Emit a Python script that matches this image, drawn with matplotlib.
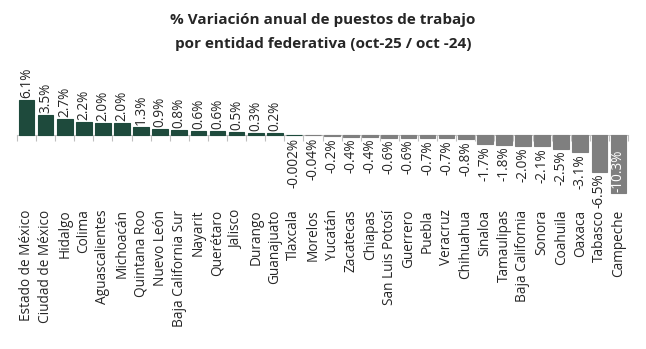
import numpy as np
import matplotlib.pyplot as plt

plt.rcParams['font.family'] = ['Open Sans', 'DejaVu Sans']

# datos
estados = ['Estado de México', 'Ciudad de México', 'Hidalgo', 'Colima', 'Aguascalientes',
           'Michoacán', 'Quintana Roo', 'Nuevo León', 'Baja California Sur', 'Nayarit',
           'Querétaro', 'Jalisco', 'Durango', 'Guanajuato', 'Tlaxcala', 'Morelos',
           'Yucatán', 'Zacatecas', 'Chiapas', 'San Luis Potosí', 'Guerrero', 'Puebla',
           'Veracruz', 'Chihuahua', 'Sinaloa', 'Tamaulipas', 'Baja California', 'Sonora',
           'Coahuila', 'Oaxaca', 'Tabasco', 'Campeche']
variacion = [6.1, 3.5, 2.7, 2.2, 2.0, 2.0, 1.3, 0.9, 0.8, 0.6, 0.6, 0.5, 0.3, 0.2,
             -0.002, -0.04, -0.2, -0.4, -0.4, -0.6, -0.6, -0.7, -0.7, -0.8,
             -1.7, -1.8, -2.0, -2.1, -2.5, -3.1, -6.5, -10.3]
etiquetas = ['6.1%', '3.5%', '2.7%', '2.2%', '2.0%', '2.0%', '1.3%', '0.9%', '0.8%',
             '0.6%', '0.6%', '0.5%', '0.3%', '0.2%', '-0.002%', '-0.04%', '-0.2%',
             '-0.4%', '-0.4%', '-0.6%', '-0.6%', '-0.7%', '-0.7%', '-0.8%', '-1.7%',
             '-1.8%', '-2.0%', '-2.1%', '-2.5%', '-3.1%', '-6.5%', '-10.3%']

verde = '#1e4a3c'
gris = '#7f7f7f'
colores = [verde if i < 15 else gris for i in range(len(variacion))]

fig = plt.figure(figsize=(6.46, 3.49), dpi=100)
# ejes colocados en pixeles: izq 17, der 628, arriba 60, abajo 200
ax = fig.add_axes([17 / 646, 1 - 200 / 349, 611 / 646, 140 / 349])

x = np.arange(len(variacion))
ax.bar(x, variacion, width=0.82, color=colores, edgecolor=colores, linewidth=0.8)

ax.set_xlim(-0.5, len(variacion) - 0.5)
ax.set_ylim(-(200 - 134.5) / 5.7, (134.5 - 60) / 5.7)

for s in ['top', 'right', 'left']:
    ax.spines[s].set_visible(False)
ax.spines['bottom'].set_position(('data', 0))
ax.spines['bottom'].set_color('#bfbfbf')
ax.spines['bottom'].set_zorder(0)
ax.set_yticks([])

ax.set_xticks(x)
ax.set_xticklabels(estados, rotation=90, fontsize=9.8, color='#262626')
ax.tick_params(axis='x', which='major', length=0, pad=54)
ax.set_xticks(np.arange(len(variacion) + 1) - 0.5, minor=True)
ax.tick_params(axis='x', which='minor', length=4, color='#bfbfbf', width=0.8)

for i, (v, t) in enumerate(zip(variacion, etiquetas)):
    if t == '-10.3%':
        ax.text(i, v + 0.2, t, rotation=90, ha='center', va='bottom', fontsize=9.8, color='white')
    elif v >= 0:
        ax.text(i, v + 0.35, t, rotation=90, ha='center', va='bottom', fontsize=9.8, color='#262626')
    else:
        ax.text(i, min(v, -0.3) - 0.35, t, rotation=90, ha='center', va='top', fontsize=9.8, color='#262626')

fig.text(0.5, 1 - 20 / 349, '% Variación anual de puestos de trabajo', ha='center', va='center',
         fontsize=11, fontweight='bold', color='#262626')
fig.text(0.5, 1 - 44 / 349, 'por entidad federativa (oct-25 / oct -24)', ha='center', va='center',
         fontsize=11, fontweight='bold', color='#262626')

fig.savefig('out.png', dpi=100)
